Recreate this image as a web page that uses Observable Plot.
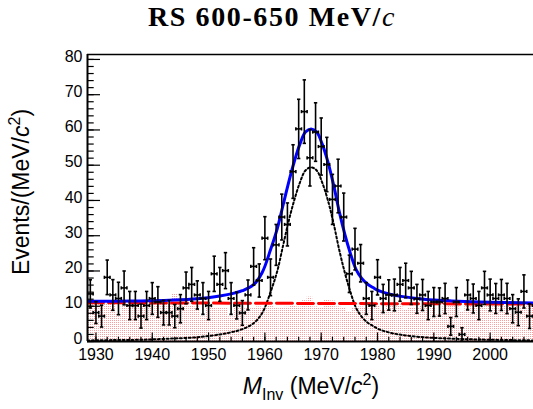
<!DOCTYPE html>
<html><head><meta charset="utf-8">
<script src="https://cdn.jsdelivr.net/npm/d3@7"></script>
<script src="https://cdn.jsdelivr.net/npm/@observablehq/plot@0.6"></script>
<style>body{margin:0;background:#fff}#chart{width:533px;height:409px}</style>
</head><body><div id="chart"></div>
<script>
// ---- data ----
const massBins = [1929,1930,1931,1932,1933,1934,1935,1936,1937,1938,1939,1940,1941,1942,1943,1944,1945,1946,1947,1948,1949,1950,1951,1952,1953,1954,1955,1956,1957,1958,1959,1960,1961,1962,1963,1964,1965,1966,1967,1968,1969,1970,1971,1972,1973,1974,1975,1976,1977,1978,1979,1980,1981,1982,1983,1984,1985,1986,1987,1988,1989,1990,1991,1992,1993,1994,1995,1996,1997,1998,1999,2000,2001,2002,2003,2004,2005,2006,2007,2008];
const counts = [13.5,8.2,7.2,18.2,13.2,12.2,15.2,10.2,10.2,7.2, 10.2,12.2,11.2,8.2,8.2,7.2,9.3,15.2,16.2,13.2, 12.2,10.2,19.2,16.2,20.1,12.2,10.2,8.1,13.2,21.3, 17.3,29.3,18.2,27.4,35.3,33.2,48.2,60.3,65.2,52.1, 59.4,55.3,50.2,40.3,44.1,35.3,19.2,26.2,22.2,12.2, 10.2,18.2,12.2,13.2,13.2,16.2,17.3,15.2,12.1,13.2, 10.2,11.2,11.2,12.2,4.3,11.2,2.0,13.2,12.2,10.2, 15.2,13.2,12.2,13.2,12.2,9.3,8.3,14.2,7.2,10.2];
const errors = [4.0,3.1,3.1,4.9,4.35,4.6,4.8,4.0,4.0,3.4, 4.0,4.5,4.35,3.5,3.5,3.3,4.0,4.5,4.8,4.0, 4.5,4.0,5.0,4.8,5.1,4.5,3.8,3.5,4.25,5.3, 4.7,6.1,5.2,5.8,6.5,6.1,7.6,8.4,9.0,8.0, 8.3,8.1,7.7,7.1,7.6,6.8,5.3,5.9,5.3,4.5, 4.0,5.0,4.0,4.3,4.5,4.8,4.9,4.7,4.1,4.4, 4.0,4.1,4.0,4.3,2.5,4.1,1.9,4.25,4.1,4.0, 4.7,4.5,4.25,4.4,4.3,4.0,3.8,4.7,3.5,4.0];
const histHeights = [10.8,10.8,10.8,10.5,10.8,8.0,10.5,10.6,10.2,10.8, 10.4,10.8,10.2,10.6,10.8,13.5,12.0,10.5,10.2,9.8, 7.0,9.5,9.4,9.6,9.4,7.0,9.4,9.4,9.6,9.4, 9.8,9.6,10.0,9.5,9.4,9.7,10.2,9.8,11.6,12.6, 9.8,9.6,11.8,11.5,9.8,9.6,8.3,9.6,9.8,9.6, 10.0,10.2,8.8,10.2,10.2,10.4,8.8,9.4,9.6,10.0, 10.2,9.4,7.9,9.8,10.0,10.2,8.3,10.2,10.2,10.6, 10.6,10.6,10.4,10.2,10.0,8.0,10.4,10.6,10.6,10.6];

const curveMass = [1928.5,1933,1938,1943,1948,1952,1954,1956,1958,1959.5,1961,1962.2,1963.2,1964.2,1965.2,1966.2,1967.2,1968.2,1969.2,1970.2,1971.2,1972.2,1973.2,1974.2,1975.2,1976.2,1977.2,1978.2,1979.2,1980.2,1982.2,1984.2,1988.2,1993.2,1998.2,2008];
const totalFit  = [11.4,11.4,11.5,11.7,12.1,12.9,13.5,14.4,16.1,19.5,26,32,38.5,45,50.9,55.9,59.4,60.3,59.4,55.9,50.9,44.4,36.9,30.4,24.9,20.4,17.9,16.3,15.3,14.4,13.4,12.8,12.0,11.5,11.2,10.9];
const signalFit = [0.3,0.4,0.5,0.8,1.2,2.0,2.6,3.5,5.2,8.0,14,20,27,34,40,45,48.5,49.4,48.5,45,40,33.5,26,19.5,14,9.5,7,5.4,4.4,3.5,2.5,1.9,1.2,0.8,0.55,0.3];
const bgMass = [1928.5, 2008];
const bgFit = [11.0, 10.6];

const xTicks = [1930,1940,1950,1960,1970,1980,1990,2000];
const xMinor = d3.range(1930, 2008.1, 2);
const yTicks = [0,10,20,30,40,50,60,70,80];
const yMinor = d3.range(0, 81, 2);

const xDomain = [1928.5, 2007.7];
const yDomain = [0, 81.4];

// ---- tables ----
const points = massBins.map((m, i) => ({m, n: counts[i], e: errors[i]}));
const hist = massBins.map((m, i) => ({m, h: histHeights[i]}));
const totalCurve = curveMass.map((m, i) => ({m, v: totalFit[i]}));
const signalCurve = curveMass.map((m, i) => ({m, v: signalFit[i]}));
const bgCurve = bgMass.map((m, i) => ({m, v: bgFit[i]}));

const ink = {stroke: "black", strokeWidth: 1.6, clip: true};
const fmt = d => String(d);

const chart = Plot.plot({
  width: 533, height: 409,
  marginLeft: 87, marginRight: 0, marginTop: 54, marginBottom: 68,
  x: {domain: xDomain},
  y: {domain: yDomain},
  style: {fontFamily: "'Liberation Sans', Arial, sans-serif", fontSize: "16px", background: "white", color: "black", overflow: "visible"},
  marks: [
    Plot.rect(hist, {x1: d => d.m - 0.5, x2: d => d.m + 0.5, y1: 0, y2: "h", fill: "url(#rootDots)", clip: true}),
    Plot.line(signalCurve, {x: "m", y: "v", stroke: "black", strokeWidth: 2, strokeDasharray: "2,2.4", curve: "catmull-rom", clip: true}),
    Plot.line(bgCurve, {x: "m", y: "v", stroke: "#ff0000", strokeWidth: 3, strokeDasharray: "16,5", clip: true}),
    Plot.line(totalCurve, {x: "m", y: "v", stroke: "#0000ff", strokeWidth: 3, curve: "catmull-rom", clip: true}),
    // error bars
    Plot.link(points, {x1: d => d.m - 0.5, x2: d => d.m + 0.5, y1: "n", y2: "n", ...ink}),
    Plot.link(points, {x1: "m", x2: "m", y1: d => d.n - d.e, y2: d => d.n + d.e, ...ink}),
    Plot.link(points, {x1: d => d.m - 0.5, x2: d => d.m - 0.5, y1: d => d.n - 0.45, y2: d => d.n + 0.45, ...ink}),
    Plot.link(points, {x1: d => d.m + 0.5, x2: d => d.m + 0.5, y1: d => d.n - 0.45, y2: d => d.n + 0.45, ...ink}),
    Plot.link(points, {x1: d => d.m - 0.3, x2: d => d.m + 0.3, y1: d => d.n - d.e, y2: d => d.n - d.e, ...ink}),
    Plot.link(points, {x1: d => d.m - 0.3, x2: d => d.m + 0.3, y1: d => d.n + d.e, y2: d => d.n + d.e, ...ink}),
    // axes
    Plot.axisY({ticks: yTicks, tickSize: 0, tickPadding: 5, tickFormat: fmt, label: null, fontSize: 16, dy: -3}),
    Plot.axisY({ticks: yTicks, tickSize: 13, dx: 13, tickFormat: () => "", label: null, strokeWidth: 1.2}),
    Plot.axisY({ticks: yMinor, tickSize: 6.7, dx: 6.7, tickFormat: () => "", label: null, strokeWidth: 1.2}),
    Plot.axisX({ticks: xTicks, tickSize: 0, tickPadding: 7, tickFormat: fmt, label: null, fontSize: 16}),
    Plot.axisX({ticks: xTicks, tickSize: 8.6, dy: -8.6, tickFormat: () => "", label: null, strokeWidth: 1.2}),
    Plot.axisX({ticks: xMinor, tickSize: 4.3, dy: -4.3, tickFormat: () => "", label: null, strokeWidth: 1.2}),
    Plot.ruleX([xDomain[0]], {stroke: "black", strokeWidth: 2}),
    Plot.ruleY([0], {stroke: "black", strokeWidth: 2}),
    Plot.ruleY([yDomain[1]], {stroke: "black", strokeWidth: 1.5})
  ]
});

const svg = d3.select(chart);
// ROOT-like dotted fill pattern
const pat = svg.insert("defs", ":first-child").append("pattern")
  .attr("id", "rootDots").attr("width", 2).attr("height", 2).attr("patternUnits", "userSpaceOnUse");
pat.append("rect").attr("width", 2).attr("height", 2).attr("fill", "white");
pat.append("rect").attr("width", 1).attr("height", 1).attr("fill", "#ff9a9a");

// title
const t = svg.append("text").attr("x", 272).attr("y", 26).attr("text-anchor", "middle")
  .style("font-family", "'Liberation Serif', 'DejaVu Serif', serif").style("font-size", "28px")
  .style("letter-spacing", "1.6px");
t.append("tspan").style("font-weight", "bold").text("RS 600-650 MeV/");
t.append("tspan").style("font-style", "italic").text("c");

// x title
const xt = svg.append("text").attr("x", 311).attr("y", 394).attr("text-anchor", "middle")
  .style("font-family", "'Liberation Sans', Arial, sans-serif").style("font-size", "23px");
xt.append("tspan").style("font-style", "italic").text("M");
xt.append("tspan").attr("dy", 6).style("font-size", "16px").text("Inv");
xt.append("tspan").attr("dy", -6).text(" (MeV/");
xt.append("tspan").style("font-style", "italic").text("c");
xt.append("tspan").attr("dy", -9).style("font-size", "16px").text("2");
xt.append("tspan").attr("dy", 9).text(")");

// y title
const yt = svg.append("text").attr("transform", "translate(29,192) rotate(-90)").attr("text-anchor", "middle")
  .style("font-family", "'Liberation Sans', Arial, sans-serif").style("font-size", "23px");
yt.append("tspan").text("Events/(MeV/");
yt.append("tspan").style("font-style", "italic").text("c");
yt.append("tspan").attr("dy", -9).style("font-size", "16px").text("2");
yt.append("tspan").attr("dy", 9).text(")");

document.getElementById("chart").appendChild(chart);
</script>
</body></html>
